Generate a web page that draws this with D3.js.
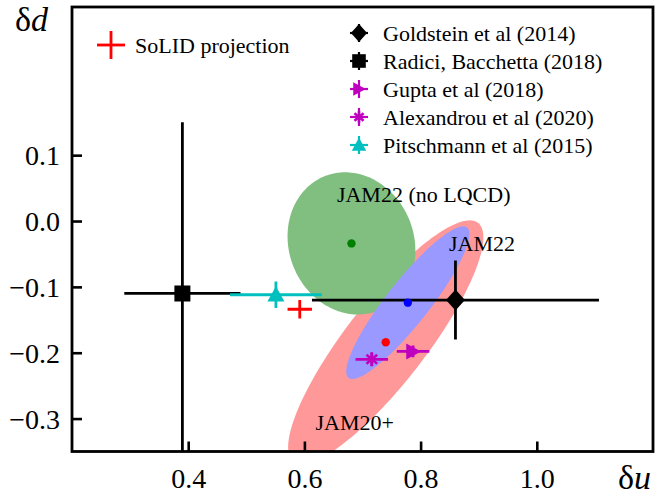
<!DOCTYPE html>
<html>
<head>
<meta charset="utf-8">
<script src="https://cdn.jsdelivr.net/npm/d3@7"></script>
<style>
  html, body { margin: 0; padding: 0; background: #fff; }
  svg { display: block; }
  text { font-family: "Liberation Serif", "Times New Roman", serif; fill: #000; }
</style>
</head>
<body>
<svg id="chart" width="672" height="497"></svg>
<script>
// ---------- data ----------
const xDomain = [0.2, 1.2];
const yDomain = [-0.35, 0.325];
const xTicks = [0.4, 0.6, 0.8, 1.0];
const yTicks = [-0.3, -0.2, -0.1, 0.0, 0.1];

// JAM confidence ellipses (centre, half-extent in δu and δd, correlation)
const ellipseNames  = ["JAM20+", "JAM22 (no LQCD)", "JAM22"];
const ellipseU      = [0.740, 0.681, 0.778];
const ellipseD      = [-0.184, -0.034, -0.124];
const ellipseHalfU  = [0.168, 0.110, 0.106];
const ellipseHalfD  = [0.185, 0.108, 0.116];
const ellipseRho    = [0.86, -0.10, 0.90];
const ellipseFill   = ["#ff9999", "#80bf80", "#9999ff"];
const ellipseDot    = ["#ff0000", "#008000", "#0000ff"];
const ellipseLabelU = [0.619, 0.656, 0.849];
const ellipseLabelD = [-0.318, 0.029, -0.046];

// lattice / phenomenology points with error bars
const pointNames = ["Goldstein et al (2014)", "Radici, Bacchetta (2018)", "Gupta et al (2018)",
                    "Alexandrou et al (2020)", "Pitschmann et al (2015)"];
const pointU     = [0.860, 0.390, 0.787, 0.716, 0.551];
const pointUerr  = [0.247, 0.100, 0.028, 0.028, 0.079];
const pointD     = [-0.120, -0.110, -0.198, -0.210, -0.112];
const pointDerr  = [0.060, 0.260, 0.009, 0.010, 0.020];
const pointShape = ["diamond", "square", "triangleRight", "asterisk", "triangleUp"];
const pointColor = ["#000000", "#000000", "#bf00bf", "#bf00bf", "#00bfbf"];

// SoLID projection
const solidName = "SoLID projection";
const solidU = [0.592], solidUerr = [0.021];
const solidD = [-0.134], solidDerr = [0.014];

// ---------- layout ----------
const svg = d3.select("#chart");
const L = 72, R = 653, T = 7, B = 451.5;
const x = d3.scaleLinear().domain(xDomain).range([L, R]);
const y = d3.scaleLinear().domain(yDomain).range([B, T]);

svg.append("defs").append("clipPath").attr("id", "plotclip")
  .append("rect").attr("x", L).attr("y", T).attr("width", R - L).attr("height", B - T);

const plot = svg.append("g").attr("clip-path", "url(#plotclip)");

// ---------- ellipses ----------
const line = d3.line().x(p => x(p[0])).y(p => y(p[1])).curve(d3.curveLinearClosed);
ellipseNames.forEach((nm, i) => {
  const n = 180, pts = [];
  const s = Math.sqrt(1 - ellipseRho[i] * ellipseRho[i]);
  for (let k = 0; k < n; k++) {
    const t = 2 * Math.PI * k / n;
    pts.push([ellipseU[i] + ellipseHalfU[i] * Math.cos(t),
              ellipseD[i] + ellipseHalfD[i] * (ellipseRho[i] * Math.cos(t) + s * Math.sin(t))]);
  }
  plot.append("path").attr("d", line(pts)).attr("fill", ellipseFill[i]).attr("stroke", "none");
});

// ---------- marker shapes ----------
function markerPath(shape, sc) {
  const p = d3.path();
  if (shape === "diamond") {
    const w = 9.5 * sc, h = 10.5 * sc;
    p.moveTo(0, -h); p.lineTo(w, 0); p.lineTo(0, h); p.lineTo(-w, 0); p.closePath();
  } else if (shape === "square") {
    const a = 8 * sc;
    p.rect(-a, -a, 2 * a, 2 * a);
  } else if (shape === "triangleRight") {
    const a = 8 * sc;
    p.moveTo(a, 0); p.lineTo(-a * 0.85, -a); p.lineTo(-a * 0.85, a); p.closePath();
  } else if (shape === "triangleUp") {
    const a = 8.5 * sc;
    p.moveTo(0, -a); p.lineTo(a, a * 0.8); p.lineTo(-a, a * 0.8); p.closePath();
  }
  return p.toString();
}
function drawMarker(g, shape, cx, cy, color, sc) {
  if (shape === "asterisk") {
    const r = 7 * sc;
    [90, 40, 140].forEach(a => {
      const rad = a * Math.PI / 180;
      g.append("line")
        .attr("x1", cx - r * Math.cos(rad)).attr("y1", cy - r * Math.sin(rad))
        .attr("x2", cx + r * Math.cos(rad)).attr("y2", cy + r * Math.sin(rad))
        .attr("stroke", color).attr("stroke-width", 2.6);
    });
  } else {
    g.append("path").attr("d", markerPath(shape, sc))
      .attr("transform", `translate(${cx},${cy})`).attr("fill", color);
  }
}

// ---------- error bars & points ----------
pointNames.forEach((nm, i) => {
  const c = pointColor[i];
  plot.append("line")
    .attr("x1", x(pointU[i] - pointUerr[i])).attr("x2", x(pointU[i] + pointUerr[i]))
    .attr("y1", y(pointD[i])).attr("y2", y(pointD[i]))
    .attr("stroke", c).attr("stroke-width", 2.8);
  plot.append("line")
    .attr("x1", x(pointU[i])).attr("x2", x(pointU[i]))
    .attr("y1", y(pointD[i] - pointDerr[i])).attr("y2", y(pointD[i] + pointDerr[i]))
    .attr("stroke", c).attr("stroke-width", 2.8);
  drawMarker(plot, pointShape[i], x(pointU[i]), y(pointD[i]), c, 1);
});

// SoLID
solidU.forEach((u, i) => {
  plot.append("line")
    .attr("x1", x(u - solidUerr[i])).attr("x2", x(u + solidUerr[i]))
    .attr("y1", y(solidD[i])).attr("y2", y(solidD[i]))
    .attr("stroke", "#ff0000").attr("stroke-width", 2.8);
  plot.append("line")
    .attr("x1", x(u)).attr("x2", x(u))
    .attr("y1", y(solidD[i] - solidDerr[i])).attr("y2", y(solidD[i] + solidDerr[i]))
    .attr("stroke", "#ff0000").attr("stroke-width", 2.8);
});

// central values of ellipses
ellipseNames.forEach((nm, i) => {
  plot.append("circle").attr("cx", x(ellipseU[i])).attr("cy", y(ellipseD[i]))
    .attr("r", 4.2).attr("fill", ellipseDot[i]);
});

// ellipse labels
ellipseNames.forEach((nm, i) => {
  svg.append("text").attr("x", x(ellipseLabelU[i])).attr("y", y(ellipseLabelD[i]))
    .attr("font-size", 22).text(nm);
});

// ---------- axes ----------
const fmt = v => (v < 0 ? "\u2212" : "") + Math.abs(v).toFixed(1);
const gx = svg.append("g").attr("transform", `translate(0,${B})`)
  .call(d3.axisBottom(x).tickValues(xTicks).tickSize(-10).tickFormat(fmt));
const gy = svg.append("g").attr("transform", `translate(${L},0)`)
  .call(d3.axisLeft(y).tickValues(yTicks).tickSize(-10).tickFormat(fmt));
[gx, gy].forEach(g => {
  g.select(".domain").remove();
  g.selectAll(".tick line").attr("stroke", "#000").attr("stroke-width", 2.6);
  g.selectAll(".tick text").attr("font-size", 28)
    .attr("font-family", "'Liberation Serif', 'Times New Roman', serif").attr("fill", "#000");
});
gx.selectAll(".tick text").attr("y", 36.5).attr("dy", 0);
gy.selectAll(".tick text").attr("x", -12).attr("dy", 0).attr("y", 9.5);

// frame
svg.append("rect").attr("x", L).attr("y", T).attr("width", R - L).attr("height", B - T)
  .attr("fill", "none").attr("stroke", "#000").attr("stroke-width", 2.8);

// axis titles
const yt = svg.append("text").attr("x", 15).attr("y", 31).attr("font-size", 34);
yt.append("tspan").text("\u03b4");
yt.append("tspan").attr("font-style", "italic").text("d");
const xt = svg.append("text").attr("x", 651).attr("y", 489).attr("font-size", 34)
  .attr("text-anchor", "end");
xt.append("tspan").text("\u03b4");
xt.append("tspan").attr("font-style", "italic").text("u");

// ---------- legends ----------
// SoLID legend
const lg1 = svg.append("g");
lg1.append("line").attr("x1", 97).attr("x2", 125).attr("y1", 45).attr("y2", 45)
  .attr("stroke", "#ff0000").attr("stroke-width", 2.8);
lg1.append("line").attr("x1", 111).attr("x2", 111).attr("y1", 31).attr("y2", 59)
  .attr("stroke", "#ff0000").attr("stroke-width", 2.8);
lg1.append("text").attr("x", 135).attr("y", 52.5).attr("font-size", 22).text(solidName);

// points legend
const lg2 = svg.append("g");
pointNames.forEach((nm, i) => {
  const cy = 33 + i * 28, cx = 359, c = pointColor[i];
  lg2.append("line").attr("x1", cx - 9).attr("x2", cx + 9).attr("y1", cy).attr("y2", cy)
    .attr("stroke", c).attr("stroke-width", 2.2);
  lg2.append("line").attr("x1", cx).attr("x2", cx).attr("y1", cy - 9).attr("y2", cy + 9)
    .attr("stroke", c).attr("stroke-width", 2.2);
  drawMarker(lg2, pointShape[i], cx, cy, c, 0.85);
  lg2.append("text").attr("x", 383).attr("y", cy + 7.7).attr("font-size", 22).text(nm);
});
</script>
</body>
</html>
